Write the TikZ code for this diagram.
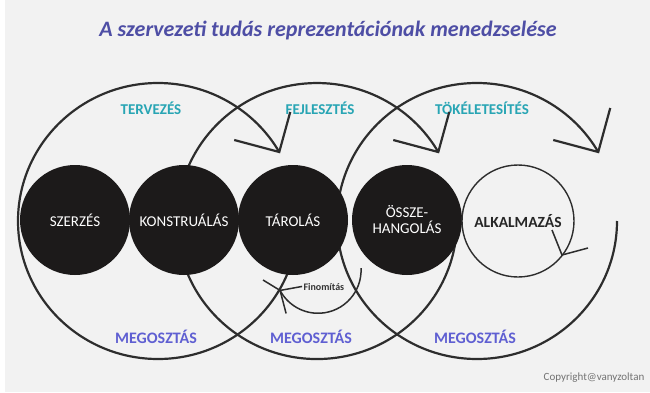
\documentclass[tikz,border=0pt]{standalone}
\usepackage{fontspec}
\setmainfont{Carlito}
\definecolor{bg}{RGB}{242,242,242}
\definecolor{titlecol}{RGB}{78,78,165}
\definecolor{tealcol}{RGB}{40,165,180}
\definecolor{megcol}{RGB}{95,95,210}
\definecolor{linecol}{RGB}{45,45,45}
\definecolor{blackfill}{RGB}{28,26,26}
\begin{document}
\begin{tikzpicture}[x=1pt,y=1pt,
  bigarc/.style={draw=linecol, line width=2.2pt},
  thinarc/.style={draw=linecol, line width=1.5pt},
  blackcirc/.style={circle, fill=blackfill, minimum size=110pt, inner sep=0pt,
     text=white, font=\fontsize{15}{17}\selectfont, align=center},
  whitecirc/.style={circle, draw=linecol, line width=1.4pt, fill=bg, minimum size=112pt,
     inner sep=0pt, text=black!85, font=\fontsize{15.5}{17}\selectfont\bfseries},
  phaselabel/.style={text=tealcol, font=\fontsize{15}{17}\selectfont\bfseries},
  sharelabel/.style={text=megcol, font=\fontsize{16}{18}\selectfont\bfseries},
  smalllabel/.style={text=black!80, font=\fontsize{10}{12}\selectfont\bfseries},
  copylabel/.style={text=black!55, font=\fontsize{11}{13}\selectfont}
]
\useasboundingbox (0,0) rectangle (650,392);
\fill[white] (0,0) rectangle (650,392);
\fill[bg] (5,0) rectangle (650,392);

% title
\node[text=titlecol, font=\fontsize{22}{26}\selectfont\bfseries\itshape] (title) at (328,361)
  {A szervezeti tudás reprezentációnak menedzselése};

% phase labels
\node[phaselabel] (terv) at (151,284) {TERVEZÉS};
\node[phaselabel] (fejl) at (320,284) {FEJLESZTÉS};
\node[phaselabel] (tok) at (482,284) {TÖKÉLETESÍTÉS};

% sharing labels
\node[sharelabel] (m1) at (156,55) {MEGOSZTÁS};
\node[sharelabel] (m2) at (311,55) {MEGOSZTÁS};
\node[sharelabel] (m3) at (475,55) {MEGOSZTÁS};

% big cycle arcs with open heads
\draw[bigarc] (298,171) arc[start angle=0, end angle=-330, x radius=140, y radius=138] coordinate (t1);
\draw[bigarc] (t1) ++(-45,12) -- (t1) -- ++(11,40);
\draw[bigarc] (456.5,183) arc[start angle=5, end angle=-330, x radius=140, y radius=138] coordinate (t2);
\draw[bigarc] (t2) ++(-45,12) -- (t2) -- ++(11,40);
\draw[bigarc] (617,171) arc[start angle=0, end angle=-330, x radius=140, y radius=138] coordinate (t3);
\draw[bigarc] (t3) ++(-45,12) -- (t3) -- ++(12,44);

% process circles
\node[blackcirc] (szerzes) at (75,172) {SZERZÉS};
\node[blackcirc] (konst) at (184,172) {KONSTRUÁLÁS};
\node[blackcirc] (tarolas) at (293,172) {TÁROLÁS};
\node[blackcirc] (ossze) at (407,172) {ÖSSZE-\\[-1pt]HANGOLÁS};
\node[whitecirc] (alk) at (518,171) {ALKALMAZÁS};

% small cycle head on ALKALMAZÁS
\coordinate (ta) at (562,137);
\draw[thinarc] (ta) ++(-10,25) -- (ta) -- ++(26,7);

% refinement arrow
\draw[thinarc] (361,124) arc[start angle=3, end angle=-152, radius=43] coordinate (tf);
\draw[thinarc] (tf) ++(22,4) -- (tf) -- ++(6,-23);
\draw[thinarc] (263,112) -- (tf);
\node[smalllabel, anchor=west] (fin) at (300,105) {Finomítás};

% copyright
\node[copylabel] (copy) at (594,14) {Copyright@vanyzoltan};
\end{tikzpicture}
\end{document}
